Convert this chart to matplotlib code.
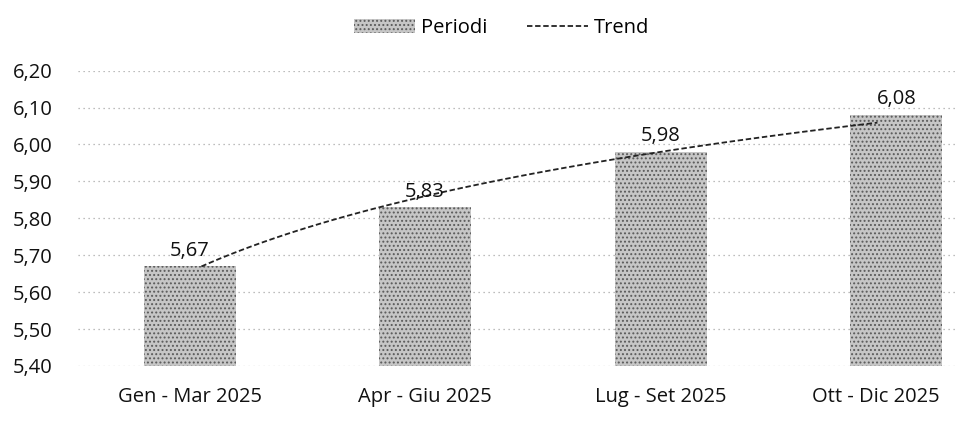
import numpy as np
import matplotlib
matplotlib.use("Agg")
import matplotlib.pyplot as plt
import matplotlib.transforms as mtransforms
from matplotlib.patches import Patch
from matplotlib.lines import Line2D

plt.rcParams['font.family'] = ['Open Sans', 'DejaVu Sans']
plt.rcParams['hatch.color'] = '#4a4a4a'
plt.rcParams['hatch.linewidth'] = 0.9

categorie = ['Gen - Mar 2025', 'Apr - Giu 2025', 'Lug - Set 2025', 'Ott - Dic 2025']
valori = [5.67, 5.83, 5.98, 6.08]
tick_y = [5.40, 5.50, 5.60, 5.70, 5.80, 5.90, 6.00, 6.10, 6.20]

x = np.arange(len(categorie))

# tendenza logaritmica (come in Excel)
b, a = np.polyfit(np.log(x + 1), valori, 1)
xt = np.linspace(0.05, len(categorie) - 1.08, 100)
yt = a + b * np.log(xt + 1)

fig = plt.figure(figsize=(9.59, 4.28), dpi=100)
ax = fig.add_axes([0.081, 0.145, 0.915, 0.69])

ax.bar(x, np.array(valori) - 5.40, bottom=5.40, width=0.39,
       color='#c6c6c6', hatch='....', edgecolor='#5a5a5a', linewidth=0, zorder=2)
ax.plot(xt, yt, color='#222222', linestyle=(0, (3, 1.5)), linewidth=1.3, zorder=3)

for xi, v in zip(x, valori):
    ax.text(xi, v + 0.015, f'{v:.2f}'.replace('.', ','), ha='center', va='bottom',
            fontsize=14.5, color='#111111', zorder=4)

ax.set_ylim(5.40, 6.20)
ax.set_xlim(-0.475, 3.25)
ax.set_yticks(tick_y)
ax.set_yticklabels([f'{t:.2f}'.replace('.', ',') for t in tick_y], fontsize=14.5, color='#111111')
ax.set_xticks(x)
ax.set_xticklabels(categorie, fontsize=14.5, color='#111111')
ax.tick_params(length=0)
ax.tick_params(axis='y', pad=18)
ax.tick_params(axis='x', pad=15)
ax.grid(axis='y', color='#a8a8a8', linestyle=(0, (1, 3)), linewidth=0.9, zorder=0)
for s in ax.spines.values():
    s.set_visible(False)

# ultima etichetta spostata a sinistra per non uscire dal bordo
ultima = ax.get_xticklabels()[-1]
ultima.set_transform(ultima.get_transform() +
                     mtransforms.ScaledTranslation(-0.2, 0, fig.dpi_scale_trans))

handles = [Patch(facecolor='#c6c6c6', hatch='....', edgecolor='#5a5a5a', linewidth=0),
           Line2D([0], [0], color='#222222', linestyle=(0, (3, 1.5)), linewidth=1.3)]
fig.legend(handles, ['Periodi', 'Trend'], loc='center', bbox_to_anchor=(0.523, 0.935),
           ncol=2, frameon=False, fontsize=14.5, handlelength=3.0, handletextpad=0.3,
           columnspacing=2.0)

fig.savefig('out.png', dpi=100)
